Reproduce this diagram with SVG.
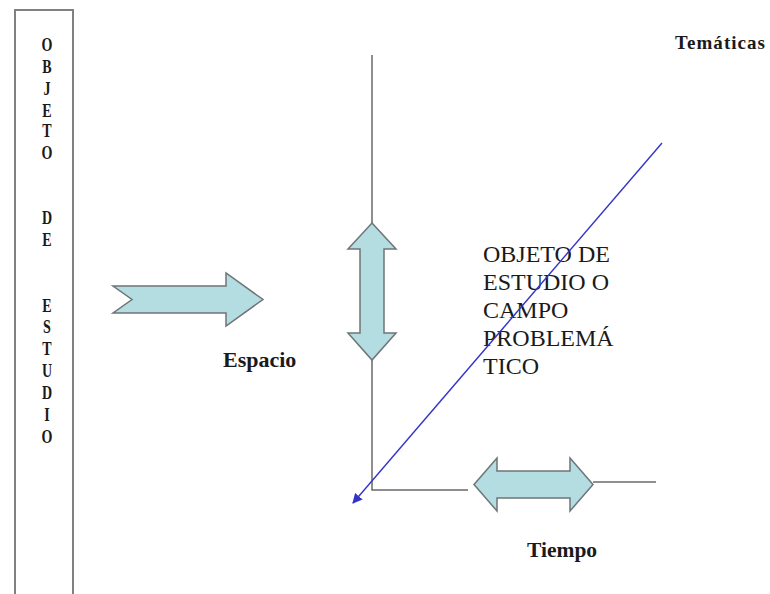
<svg xmlns="http://www.w3.org/2000/svg" width="770" height="594" viewBox="0 0 770 594">
<style>
text{font-family:"Liberation Serif","DejaVu Serif",serif}
.lbl{font-weight:bold;fill:#1a1a1a}
.col{font-weight:bold;font-size:18px;fill:#1a1a1a;text-anchor:middle}
.ctr{font-size:24px;fill:#1a1a1a}
.arw{fill:#b3dde0;stroke:#6e7478;stroke-width:1.5}
.ax{stroke:#6a6a6a;stroke-width:1.5;fill:none}
</style>
<defs>
<marker id="bh" viewBox="0 0 10 10" refX="9" refY="5" markerWidth="10" markerHeight="10" markerUnits="userSpaceOnUse" orient="auto">
<path d="M0,0 L10,5 L0,10 z" fill="#3333c8"/>
</marker>
</defs>
<rect width="770" height="594" fill="#ffffff"/>

<g id="objeto-column">
<rect x="15" y="10" width="58" height="590" fill="#ffffff" stroke="#808080" stroke-width="2"/>
<g transform="translate(47,0) scale(0.78,1.1)">
<text class="col" x="0" y="46">O</text>
<text class="col" x="0" y="66">B</text>
<text class="col" x="0" y="86">J</text>
<text class="col" x="0" y="106">E</text>
<text class="col" x="0" y="125">T</text>
<text class="col" x="0" y="145">O</text>
<text class="col" x="0" y="204">D</text>
<text class="col" x="0" y="224">E</text>
<text class="col" x="0" y="284">E</text>
<text class="col" x="0" y="303">S</text>
<text class="col" x="0" y="323">T</text>
<text class="col" x="0" y="343">U</text>
<text class="col" x="0" y="363">D</text>
<text class="col" x="0" y="383">I</text>
<text class="col" x="0" y="403">O</text>
</g>
</g>

<g id="connectors">
<polyline class="ax" points="372,55 372,490 468,490"/>
<line class="ax" x1="593" y1="482" x2="656" y2="482"/>
</g>

<g id="espacio">
<polygon class="arw" points="113,286 226,286 226,273 263,299.5 226,326 226,313 113,313 132,299.5"/>
<text class="lbl" x="223" y="367" font-size="22">Espacio</text>
</g>

<g id="vertical-arrow">
<polygon class="arw" points="372,223 396,249 384,249 384,333 396,333 372,360 348,333 360,333 360,249 348,249"/>
</g>

<g id="tiempo">
<polygon class="arw" points="474,484.5 497,458 497,471 570,471 570,458 593,484.5 570,511 570,498 497,498 497,511"/>
<text class="lbl" x="527" y="557" font-size="21.5">Tiempo</text>
</g>

<g id="tematicas">
<text class="lbl" x="675" y="49" font-size="19" textLength="90" lengthAdjust="spacing">Temáticas</text>
</g>

<g id="objeto-campo">
<text class="ctr" x="483" y="262">OBJETO DE</text>
<text class="ctr" x="483" y="290">ESTUDIO O</text>
<text class="ctr" x="483" y="318">CAMPO</text>
<text class="ctr" x="483" y="346">PROBLEMÁ</text>
<text class="ctr" x="483" y="374">TICO</text>
</g>

<g id="tematicas-axis">
<line x1="662" y1="143" x2="353" y2="503" stroke="#3333c8" stroke-width="1.4" marker-end="url(#bh)"/>
</g>
</svg>
